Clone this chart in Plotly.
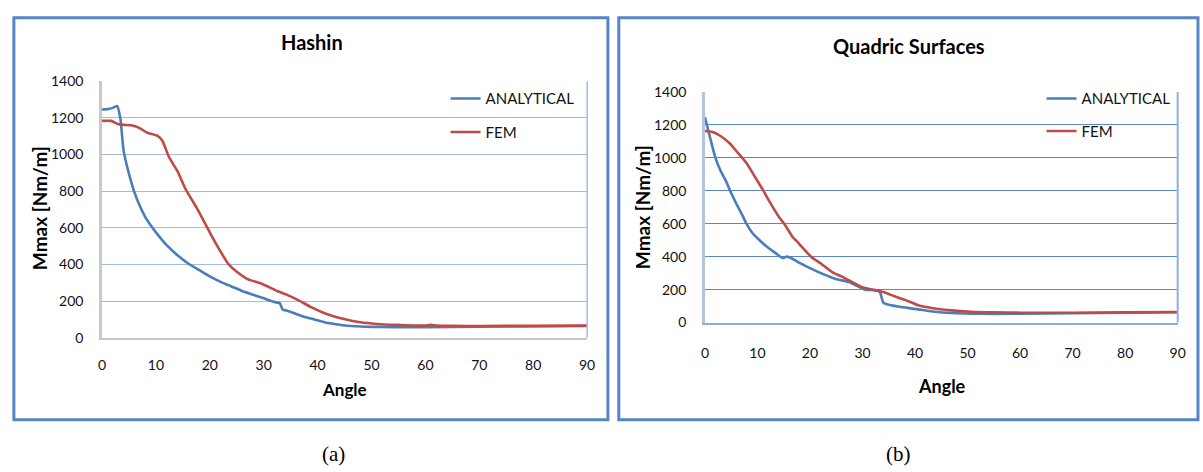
import plotly.graph_objects as go

W, H = 1203, 472

# ---------------- data ----------------
hashin_analytical_angle = [0, 1, 2, 2.8, 3.4, 4, 5, 6, 7, 8, 9, 10, 12, 14, 16, 18, 20, 22, 24, 26,
                           28, 30, 32, 33, 33.5, 34.5, 36, 38, 40, 42, 45, 48, 50, 54, 60, 70, 80, 90]
hashin_analytical = [1246, 1248, 1255, 1265, 1198, 1023, 895, 795, 720, 660, 615, 575, 505, 450, 405,
                     370, 335, 305, 280, 255, 235, 215, 195, 188, 154, 146, 130, 110, 95, 80, 67, 61,
                     59, 58, 58, 60, 62, 64]

hashin_fem_angle = [0, 1.7, 2.9, 4, 5.4, 6.9, 8.4, 10.3, 11.2, 12.4, 14, 15.5, 17.6, 19.5, 21, 22,
                    23.5, 25, 27, 29.6, 32.6, 34, 36.3, 38.8, 41.8, 44.9, 47.9, 51, 54.7, 58, 60,
                    61, 62, 65, 70, 80, 90]
hashin_fem = [1184, 1184, 1167, 1162, 1160, 1146, 1119, 1102, 1075, 988, 909, 812, 707, 602, 520,
              470, 400, 360, 320, 295, 254, 238, 207, 167, 128, 102, 84, 75, 70, 67, 66, 70, 67,
              65, 64, 65, 66]

quadric_analytical_angle = [0, 1, 2, 3, 4, 4.8, 6, 7, 7.9, 9, 10.4, 12, 13.5, 14.8, 15.5, 16.2, 18,
                            21.1, 24.9, 27.4, 30.5, 32.4, 33.3, 34.0, 37.4, 40.6, 43.7, 46.9, 50.6,
                            55, 60, 70, 80, 90]
quadric_analytical = [1245, 1120, 1000, 920, 860, 800, 720, 660, 600, 545, 500, 455, 420, 392, 400,
                      395, 362, 314, 265, 246, 200, 197, 187, 119, 94, 80, 66, 58, 54, 53, 54, 57,
                      60, 63]

quadric_fem_angle = [0, 1.3, 2.9, 4.8, 6, 7.9, 9.8, 11.1, 12.3, 14.2, 15.1, 16.7, 17.3, 20.2, 22,
                     24.3, 26, 28.6, 29.9, 32.4, 34, 36.2, 38.1, 40.6, 43.7, 46.9, 50.6, 55, 60,
                     70, 80, 90]
quadric_fem = [1163, 1158, 1134, 1085, 1040, 968, 870, 802, 734, 636, 600, 519, 500, 400, 360, 305,
               280, 236, 215, 197, 185, 158, 138, 105, 86, 74, 66, 62, 60, 60, 62, 64]

x_ticks = [0, 10, 20, 30, 40, 50, 60, 70, 80, 90]
y_ticks = [0, 200, 400, 600, 800, 1000, 1200, 1400]
panel_titles = ["Hashin", "Quadric Surfaces"]
captions = ["(a)", "(b)"]
series_names = ["ANALYTICAL", "FEM"]

# ---------------- style ----------------
BLUE = "#4a7ebb"
RED = "#be4b48"
FRAME = "#5585c5"
FONT = "Lato"
TXT = "#111111"


def px(x):
    return x / W


def py(y):
    return 1 - y / H


def line(color):
    return dict(color=color, width=2.6, shape="spline", smoothing=0.5)


fig = go.Figure()

fig.add_trace(go.Scatter(x=hashin_analytical_angle, y=hashin_analytical, mode="lines",
                         name=series_names[0], line=line(BLUE),
                         xaxis="x", yaxis="y", legend="legend", legendgroup="a1"))
fig.add_trace(go.Scatter(x=hashin_fem_angle, y=hashin_fem, mode="lines",
                         name=series_names[1], line=line(RED),
                         xaxis="x", yaxis="y", legend="legend", legendgroup="a2"))
fig.add_trace(go.Scatter(x=quadric_analytical_angle, y=quadric_analytical, mode="lines",
                         name=series_names[0], line=line(BLUE),
                         xaxis="x2", yaxis="y2", legend="legend2", legendgroup="b1"))
fig.add_trace(go.Scatter(x=quadric_fem_angle, y=quadric_fem, mode="lines",
                         name=series_names[1], line=line(RED),
                         xaxis="x2", yaxis="y2", legend="legend2", legendgroup="b2"))

tickfont = dict(family=FONT, size=14, color=TXT)

# panel geometry (pixels)
L = dict(x0=99, x1=589, ytop=75, ybot=341)
R = dict(x0=708, x1=1185.5, ytop=86, ybot=325.3)

common_x = dict(range=[0, 90], tickvals=x_ticks, showgrid=False, zeroline=False,
                ticks="", tickfont=tickfont, fixedrange=True, showline=True)
common_y = dict(range=[0, 1400], tickvals=y_ticks, showgrid=True, zeroline=False,
                ticks="", tickfont=tickfont, fixedrange=True, showline=True)

fig.update_layout(
    width=W, height=H,
    margin=dict(l=0, r=0, t=0, b=0),
    paper_bgcolor="white", plot_bgcolor="white",
    xaxis=dict(common_x, domain=[px(L["x0"]), px(L["x1"])], anchor="y",
               linecolor="#c4c4c4", linewidth=2, ticklabelstandoff=13),
    yaxis=dict(common_y, domain=[py(L["ybot"]), py(L["ytop"])], anchor="x",
               linecolor="#c8c8c8", linewidth=2.5, gridcolor="#a3bbdf", gridwidth=1.4,
               ticklabelstandoff=13),
    xaxis2=dict(common_x, domain=[px(R["x0"]), px(R["x1"])], anchor="y2",
                linecolor="#8eaadb", linewidth=2, ticklabelstandoff=17),
    yaxis2=dict(common_y, domain=[py(R["ybot"]), py(R["ytop"])], anchor="x2",
                linecolor="#b4c4dc", linewidth=2.5, gridcolor="#5a87c6", gridwidth=1.1,
                ticklabelstandoff=13),
    legend=dict(x=px(446), y=py(76), xanchor="left", yanchor="top",
                font=dict(family=FONT, size=15, color=TXT), bgcolor="rgba(0,0,0,0)",
                tracegroupgap=11, borderwidth=0),
    legend2=dict(x=px(1048), y=py(76), xanchor="left", yanchor="top",
                 font=dict(family=FONT, size=15, color=TXT), bgcolor="rgba(0,0,0,0)",
                 tracegroupgap=10, borderwidth=0),
    showlegend=True,
)

shapes = [
    # outer frames
    dict(type="rect", xref="paper", yref="paper", x0=px(10), x1=px(610), y0=py(426), y1=py(9),
         line=dict(color=FRAME, width=3)),
    dict(type="rect", xref="paper", yref="paper", x0=px(621), x1=px(1206), y0=py(426), y1=py(9),
         line=dict(color=FRAME, width=3)),
    # right edges of plot areas
    dict(type="line", xref="x domain", yref="y domain", x0=1, x1=1, y0=0, y1=1,
         line=dict(color="#a3bbdf", width=1.5)),
    dict(type="line", xref="x2 domain", yref="y2 domain", x0=1, x1=1, y0=0, y1=1,
         line=dict(color="#8fb0de", width=2)),
]
fig.update_layout(shapes=shapes)

ann = []
# titles
ann.append(dict(text="<b>%s</b>" % panel_titles[0], x=px(311), y=py(34), xref="paper", yref="paper",
                showarrow=False, font=dict(family=FONT, size=20, color="black"),
                xanchor="center", yanchor="middle"))
ann.append(dict(text="<b>%s</b>" % panel_titles[1], x=px(914), y=py(38), xref="paper", yref="paper",
                showarrow=False, font=dict(family=FONT, size=20, color="black"),
                xanchor="center", yanchor="middle"))
# axis titles
ann.append(dict(text="<b>Angle</b>", x=px(344), y=py(395), xref="paper", yref="paper",
                showarrow=False, font=dict(family=FONT, size=17, color="black"),
                xanchor="center", yanchor="middle"))
ann.append(dict(text="<b>Angle</b>", x=px(947), y=py(391), xref="paper", yref="paper",
                showarrow=False, font=dict(family=FONT, size=18, color="black"),
                xanchor="center", yanchor="middle"))
ann.append(dict(text="<b>Mmax [Nm/m]</b>", x=px(36), y=py(207), xref="paper", yref="paper",
                showarrow=False, textangle=-90, font=dict(family=FONT, size=19, color="black"),
                xanchor="center", yanchor="middle"))
ann.append(dict(text="<b>Mmax [Nm/m]</b>", x=px(645), y=py(206), xref="paper", yref="paper",
                showarrow=False, textangle=-90, font=dict(family=FONT, size=19, color="black"),
                xanchor="center", yanchor="middle"))
# captions
ann.append(dict(text=captions[0], x=px(333), y=py(462), xref="paper", yref="paper",
                showarrow=False, font=dict(family="Liberation Serif", size=21, color="black"),
                xanchor="center", yanchor="middle"))
ann.append(dict(text=captions[1], x=px(904), y=py(462), xref="paper", yref="paper",
                showarrow=False, font=dict(family="Liberation Serif", size=21, color="black"),
                xanchor="center", yanchor="middle"))
fig.update_layout(annotations=ann)

fig.write_html("out.html")
